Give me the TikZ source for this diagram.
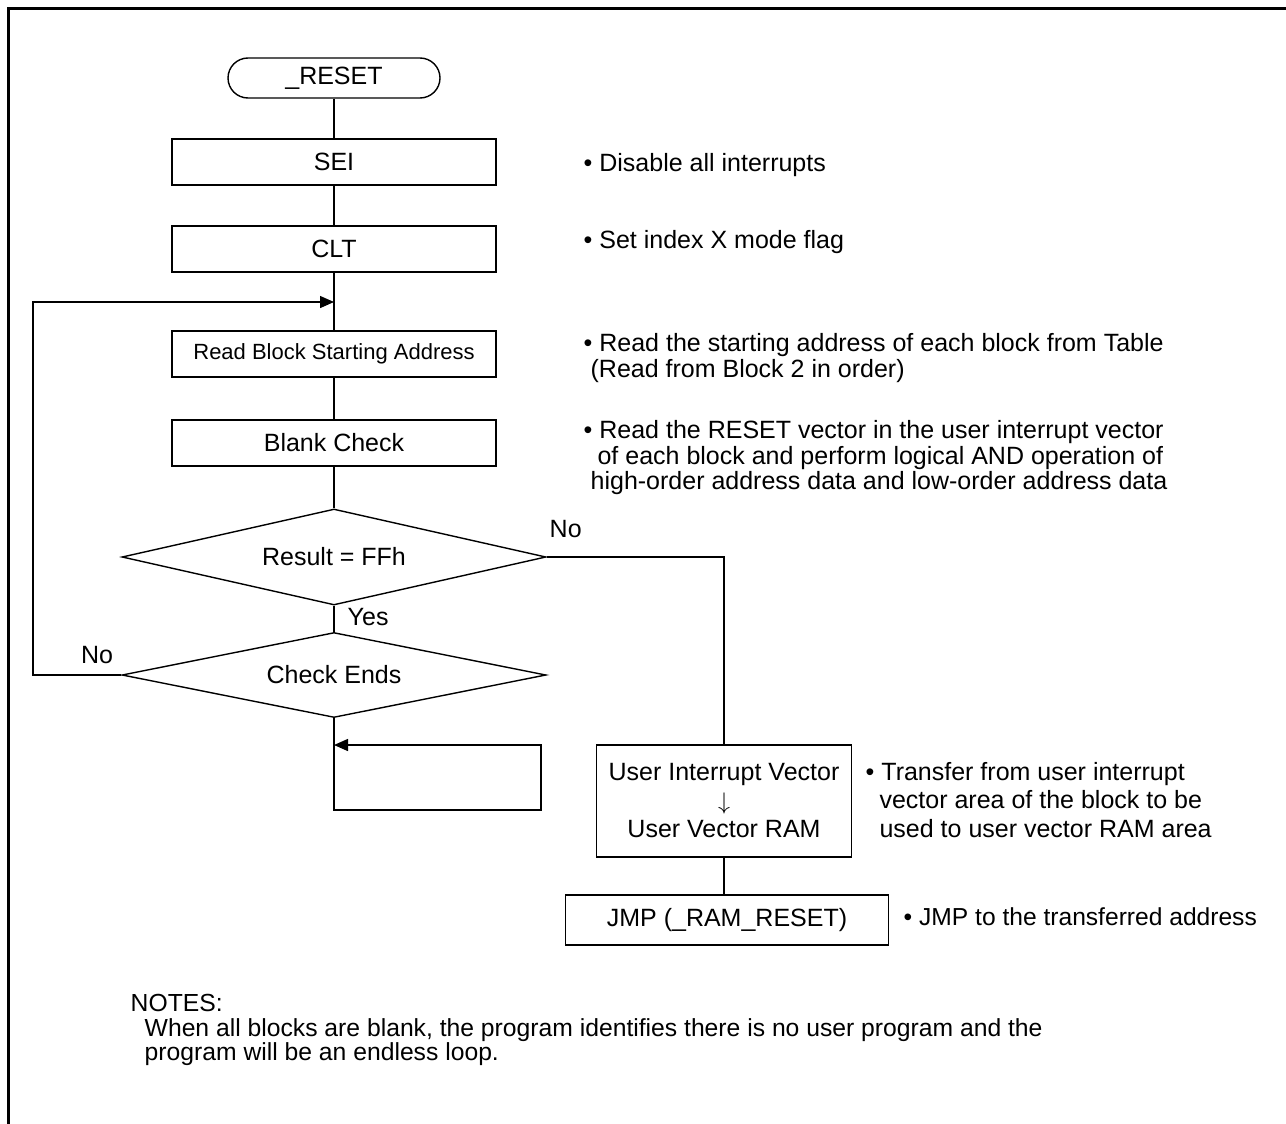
\documentclass[tikz,border=0pt]{standalone}
\usepackage{fontspec}
\setmainfont{Liberation Sans}
\usetikzlibrary{shapes.geometric,arrows.meta}

\begin{document}
\begin{tikzpicture}[x=0.5pt,y=-0.5pt,line width=0.7pt,
    font=\fontsize{12.5}{14.25}\selectfont,
    stepbox/.style={draw,rectangle,minimum width=162pt,minimum height=23pt,inner sep=2pt},
    decision/.style={draw,diamond,inner sep=0pt,aspect=4.4,minimum width=212pt},
    remark/.style={anchor=west,align=left,inner sep=0pt,font=\fontsize{12.5}{12.75}\selectfont},
    flow/.style={-{Triangle[length=7pt,width=6pt]}}]
        \useasboundingbox (0,0) rectangle (1286,1124);
        \draw[line width=1.5pt] (8,1124) -- (8,8) -- (1286,8);
        \node[draw,rounded corners=10pt,minimum width=106pt,minimum height=20pt] (reset) at (334,78) {\_RESET};
        \node[stepbox] (sei) at (334,162) {SEI};
        \node[stepbox] (clt) at (334,249) {CLT};
        \node[stepbox,font=\fontsize{11}{13}\selectfont] (readblk) at (334,354) {Read Block Starting Address};
        \node[stepbox] (blank) at (334,443) {Blank Check};
        \node[decision,minimum height=48pt] (result) at (334,557) {Result = FFh};
        \node[decision,minimum height=42.5pt] (ends) at (334,675) {Check Ends};
        \node[draw,minimum width=127.5pt,minimum height=56pt,align=center,inner sep=2pt] (uvec) at (724,801) {User Interrupt Vector\\ $\downarrow$\\ User Vector RAM};
        \node[stepbox,minimum width=161.5pt,minimum height=25pt] (jmp) at (727,920) {JMP (\_RAM\_RESET)};
        \coordinate (join) at (334,302);
        \coordinate (loopL) at (33,675);
        \coordinate (spin1) at (541,810);
        \coordinate (spin2) at (334,745);
        \draw (reset) -- (sei);
        \draw (sei) -- (clt);
        \draw (clt) -- (readblk);
        \draw (readblk) -- (blank);
        \draw (blank) -- (result);
        \draw (result) -- (ends);
        \draw[flow] (ends.west) -- (loopL) |- (join);
        \draw (result.east) -| (uvec.north);
        \draw[flow] (ends.south) |- (spin1) |- (spin2);
        \draw (uvec) -- (uvec |- jmp.north);
        \node[anchor=west,inner sep=0pt] (yes) at (347,617) {Yes};
        \node[anchor=west,inner sep=0pt] (noR) at (549,529) {No};
        \node[inner sep=0pt] (noL) at (97,655) {No};
        \node[remark] (n1) at (583,165) {• Disable all interrupts};
        \node[remark] (n2) at (583,242) {• Set index X mode flag};
        \node[remark] (n3) at (583,358) {• Read the starting address of each block from Table\\ \ (Read from Block 2 in order)};
        \node[remark] (n4) at (583,458) {• Read the RESET vector in the user interrupt vector\\ \ \ of each block and perform logical AND operation of\\ \ high-order address data and low-order address data};
        \node[remark,font=\fontsize{12.5}{14.25}\selectfont] (n5) at (865,800) {• Transfer from user interrupt\\ \ \ vector area of the block to be\\ \ \ used to user vector RAM area};
        \node[remark,font=\fontsize{12.3}{12.75}\selectfont] (n6) at (903,917) {• JMP to the transferred address};
        \node[remark,font=\fontsize{12.35}{12.25}\selectfont] (notes) at (130,1030) {NOTES:\\ \hspace{7pt}When all blocks are blank, the program identifies there is no user program and the\\ \hspace{7pt}program will be an endless loop.};
      \end{tikzpicture}
\end{document}
